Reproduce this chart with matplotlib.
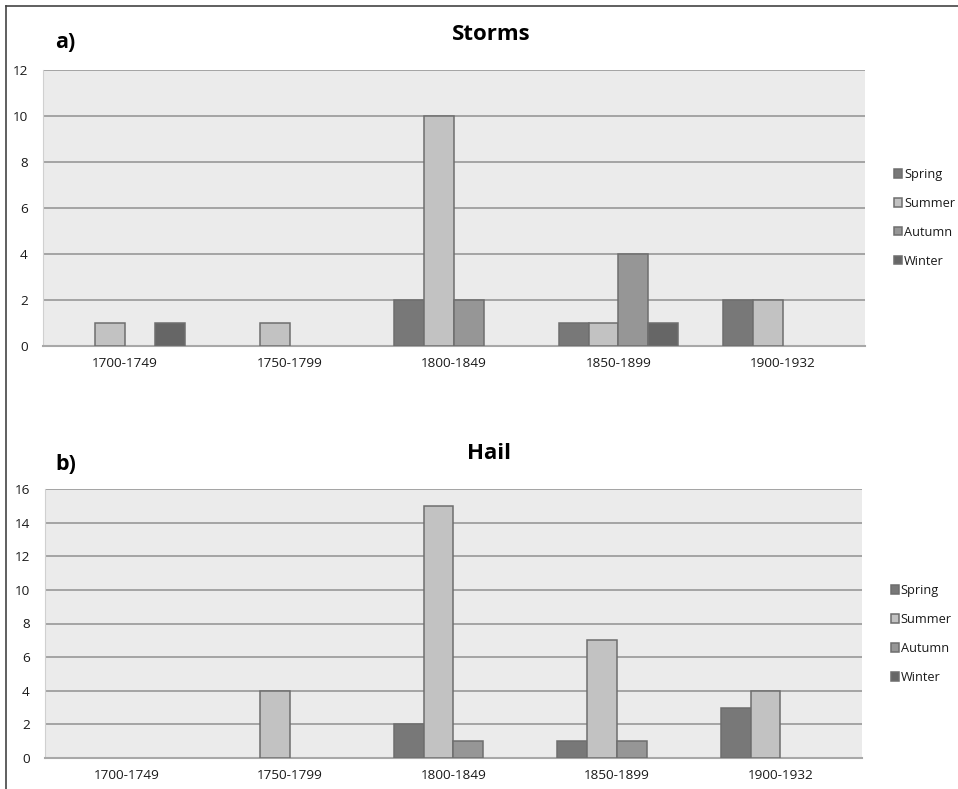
import numpy as np
import matplotlib.pyplot as plt
from matplotlib.lines import Line2D

plt.rcParams['font.family'] = ['Open Sans', 'DejaVu Sans']

periods = ['1700-1749', '1750-1799', '1800-1849', '1850-1899', '1900-1932']
seasons = ['Spring', 'Summer', 'Autumn', 'Winter']
season_colors = ['#787878', '#c2c2c2', '#969696', '#666666']

# counts per period
storm_spring = [0, 0, 2, 1, 2]
storm_summer = [1, 1, 10, 1, 2]
storm_autumn = [0, 0, 2, 4, 0]
storm_winter = [1, 0, 0, 1, 0]

hail_spring = [0, 0, 2, 1, 3]
hail_summer = [0, 4, 15, 7, 4]
hail_autumn = [0, 0, 1, 1, 0]
hail_winter = [0, 0, 0, 0, 0]

storms = [storm_spring, storm_summer, storm_autumn, storm_winter]
hail = [hail_spring, hail_summer, hail_autumn, hail_winter]

fig = plt.figure(figsize=(9.58, 7.89), dpi=100)
fig.patch.set_facecolor('white')

# frame edges of the panel
fig.add_artist(Line2D([6 / 958, 6 / 958], [0, 1 - 6 / 789], color='#444444', lw=1.2))
fig.add_artist(Line2D([6 / 958, 1], [1 - 6 / 789, 1 - 6 / 789], color='#444444', lw=1.2))

ax1 = fig.add_axes([43 / 958, 1 - 346 / 789, 822 / 958, 276 / 789])
ax2 = fig.add_axes([45 / 958, 1 - 758 / 789, 817 / 958, 269 / 789])


def draw_panel(ax, series, ymax, step, legend_y):
    x = np.arange(len(periods))
    w = 1 / 5.5
    for i, (vals, col, name) in enumerate(zip(series, season_colors, seasons)):
        # empty counts get no bar at all (no outline along the axis)
        h = np.array(vals, dtype=float)
        h[h == 0] = np.nan
        ax.bar(x + (i - 1.5) * w, h, width=w, color=col, edgecolor='#6e6e6e',
               linewidth=1.1, label=name, zorder=3)
    ax.set_xlim(-0.5, len(periods) - 0.5)
    ax.set_ylim(0, ymax)
    ax.set_yticks(np.arange(0, ymax + 1, step))
    ax.set_xticks(x)
    ax.set_xticklabels(periods)
    ax.set_facecolor('#ebebeb')
    ax.yaxis.grid(True, color='#a4a4a4', lw=1.4, zorder=0)
    ax.set_axisbelow(True)
    for s in ['top', 'right']:
        ax.spines[s].set_visible(False)
    ax.spines['left'].set_color('#d0d0d0')
    ax.spines['bottom'].set_color('#a8a8a8')
    ax.spines['bottom'].set_linewidth(1.5)
    ax.tick_params(axis='both', length=0, labelsize=9.7, colors='#1a1a1a')
    ax.tick_params(axis='y', pad=11)
    ax.tick_params(axis='x', pad=8)
    leg = ax.legend(loc='center left', bbox_to_anchor=(1.028, legend_y), frameon=False,
                    fontsize=9.2, handlelength=0.6, handleheight=0.6,
                    handletextpad=0.15, labelspacing=1.25, borderpad=0)
    for t in leg.get_texts():
        t.set_color('#1a1a1a')


draw_panel(ax1, storms, 12, 2, 0.464)
draw_panel(ax2, hail, 16, 2, 0.461)

fig.text(491 / 958, 1 - 35 / 789, 'Storms', ha='center', va='center',
         fontsize=16, fontweight='bold')
fig.text(65 / 958, 1 - 42 / 789, 'a)', ha='center', va='center',
         fontsize=15.5, fontweight='bold')
fig.text(489 / 958, 1 - 454 / 789, 'Hail', ha='center', va='center',
         fontsize=16, fontweight='bold')
fig.text(66 / 958, 1 - 464 / 789, 'b)', ha='center', va='center',
         fontsize=15.5, fontweight='bold')

fig.savefig('out.png', dpi=100)
